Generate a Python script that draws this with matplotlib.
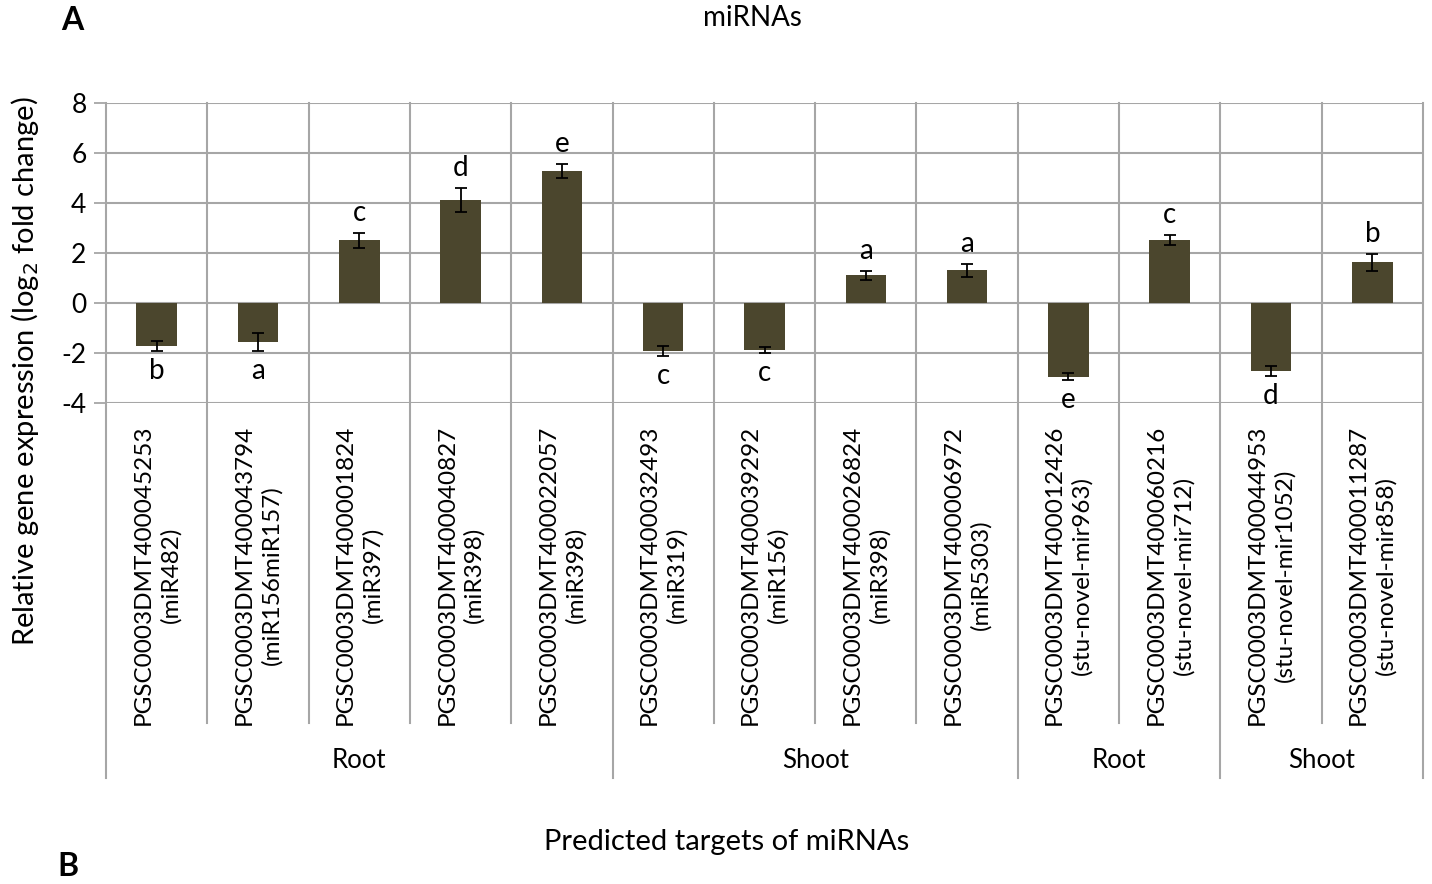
import matplotlib
matplotlib.use("Agg")
import matplotlib.pyplot as plt
import matplotlib.transforms as mtransforms

plt.rcParams['font.family'] = ['Lato', 'DejaVu Sans']
plt.rcParams['axes.unicode_minus'] = False

# data
targets = [
    "PGSC0003DMT400045253\n(miR482)",
    "PGSC0003DMT400043794\n(miR156miR157)",
    "PGSC0003DMT400001824\n(miR397)",
    "PGSC0003DMT400040827\n(miR398)",
    "PGSC0003DMT400022057\n(miR398)",
    "PGSC0003DMT400032493\n(miR319)",
    "PGSC0003DMT400039292\n(miR156)",
    "PGSC0003DMT400026824\n(miR398)",
    "PGSC0003DMT400006972\n(miR5303)",
    "PGSC0003DMT400012426\n(stu-novel-mir963)",
    "PGSC0003DMT400060216\n(stu-novel-mir712)",
    "PGSC0003DMT400044953\n(stu-novel-mir1052)",
    "PGSC0003DMT400011287\n(stu-novel-mir858)",
]
values = [-1.72, -1.56, 2.5, 4.1, 5.27, -1.93, -1.88, 1.1, 1.3, -2.95, 2.5, -2.72, 1.62]
errors = [0.2, 0.35, 0.3, 0.48, 0.28, 0.2, 0.13, 0.17, 0.25, 0.15, 0.2, 0.2, 0.35]
letters = ["b", "a", "c", "d", "e", "c", "c", "a", "a", "e", "c", "d", "b"]
groups = ["Root", "Shoot", "Root", "Shoot"]
group_sizes = [5, 4, 2, 2]

bar_color = "#4b462d"
grid_color = "#a6a6a6"

fig = plt.figure(figsize=(14.32, 8.84), dpi=100)
W, H = 1432, 884
ax = fig.add_axes([106 / W, 1 - 403 / H, (1423 - 106) / W, 300 / H])

n = len(values)
x = list(range(n))
ax.bar(x, values, width=0.4, color=bar_color, zorder=3)
ax.errorbar(x, values, yerr=errors, fmt="none", ecolor="black",
            elinewidth=1.3, capsize=4, capthick=1.3, zorder=4)

for i in range(n):
    if values[i] >= 0:
        ax.text(i, values[i] + errors[i] + 0.8, letters[i], ha="center",
                va="center", fontsize=20, zorder=5)
    else:
        ax.text(i, values[i] - errors[i] - 0.8, letters[i], ha="center",
                va="center", fontsize=20, zorder=5)

ax.set_xlim(-0.5, n - 0.5)
ax.set_ylim(-4, 8)
ax.set_yticks(range(-4, 9, 2))
ax.set_xticks([])
ax.tick_params(axis="y", labelsize=19, length=9, color=grid_color, width=1.3, pad=5)
for s in ax.spines.values():
    s.set_visible(False)
for yv in range(-4, 9, 2):
    ax.axhline(yv, color=grid_color, lw=1.5, zorder=1)

# category dividers (extend below the axes) and group dividers
trans = mtransforms.blended_transform_factory(ax.transData, ax.transAxes)
bounds = [0]
for g in group_sizes:
    bounds.append(bounds[-1] + g)
for i in range(n + 1):
    xb = i - 0.5
    bottom = -1.25 if i in bounds else -1.067
    ax.plot([xb, xb], [1, bottom], transform=trans, color=grid_color,
            lw=1.5, clip_on=False, zorder=1)

for i, lab in enumerate(targets):
    ax.text(i, -0.073, lab, transform=trans, rotation=90, ha="center", va="top",
            multialignment="center", fontsize=17.5, linespacing=1.35)

for k, g in enumerate(groups):
    mid = (bounds[k] + bounds[k + 1]) / 2 - 0.5
    ax.text(mid, -1.19, g, transform=trans, ha="center", va="center", fontsize=18.5)

fig.text(25 / W, 1 - 371 / H, "Relative gene expression (log$_2$ fold change)",
         rotation=90, ha="center", va="center", fontsize=21)
fig.text(727 / W, 1 - 842 / H, "Predicted targets of miRNAs", ha="center",
         va="center", fontsize=21)
fig.text(752 / W, 1 - 18 / H, "miRNAs", ha="center", va="center", fontsize=20)
fig.text(72 / W, 1 - 20 / H, "A", ha="center", va="center", fontsize=23,
         fontweight="bold")
fig.text(68 / W, 1 - 866 / H, "B", ha="center", va="center", fontsize=23,
         fontweight="bold")

fig.savefig("out.png", dpi=100, facecolor="white")
